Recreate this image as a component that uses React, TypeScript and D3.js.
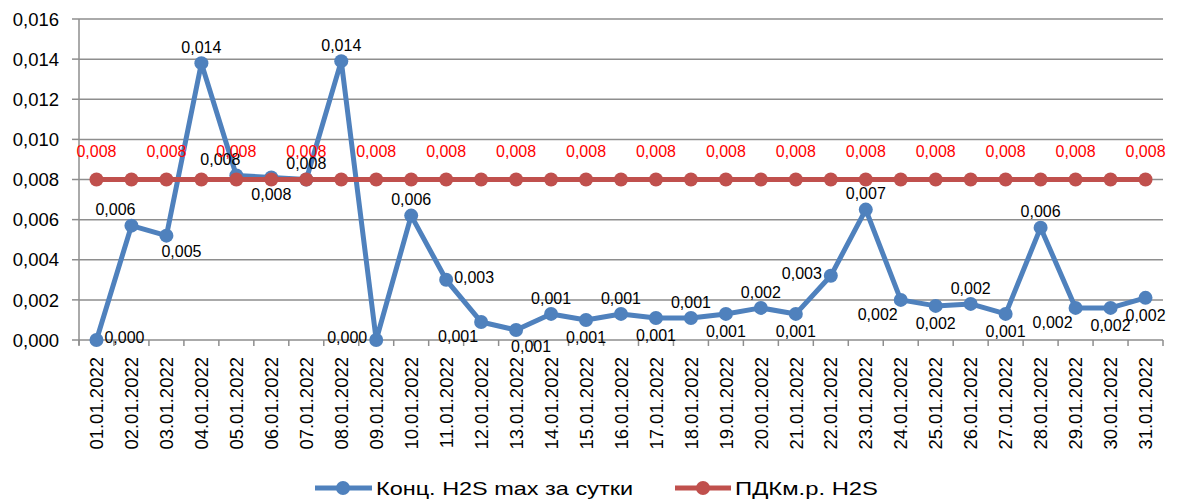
import React from "react";
import * as d3 from "d3";

const dates = [
  "01.01.2022", "02.01.2022", "03.01.2022", "04.01.2022", "05.01.2022", "06.01.2022",
  "07.01.2022", "08.01.2022", "09.01.2022", "10.01.2022", "11.01.2022", "12.01.2022",
  "13.01.2022", "14.01.2022", "15.01.2022", "16.01.2022", "17.01.2022", "18.01.2022",
  "19.01.2022", "20.01.2022", "21.01.2022", "22.01.2022", "23.01.2022", "24.01.2022",
  "25.01.2022", "26.01.2022", "27.01.2022", "28.01.2022", "29.01.2022", "30.01.2022",
  "31.01.2022",
];

const h2sMax = [
  0, 0.0057, 0.0052, 0.0138, 0.0082, 0.0081, 0.008, 0.0139, 0, 0.0062, 0.003,
  0.0009, 0.0005, 0.0013, 0.001, 0.0013, 0.0011, 0.0011, 0.0013, 0.0016, 0.0013,
  0.0032, 0.0065, 0.002, 0.0017, 0.0018, 0.0013, 0.0056, 0.0016, 0.0016, 0.0021,
];

const pdk = [
  0.008, 0.008, 0.008, 0.008, 0.008, 0.008, 0.008, 0.008, 0.008, 0.008, 0.008,
  0.008, 0.008, 0.008, 0.008, 0.008, 0.008, 0.008, 0.008, 0.008, 0.008, 0.008,
  0.008, 0.008, 0.008, 0.008, 0.008, 0.008, 0.008, 0.008, 0.008,
];

const seriesNames = ["Конц. H2S max за сутки", "ПДКм.р. H2S"];

// label placement (layout only)
const h2sLabelPos = [
  "r", "al", "br", "a", "al", "b", "a", "a", "l", "a", "r", "bl", "br", "a", "b", "a",
  "b", "a", "b", "a", "b", "l", "a", "bl", "b", "a", "b", "a", "bl", "b", "b",
];

const posOffset: Record<string, [number, number]> = {
  a: [0, -16],
  b: [0, 17],
  l: [-29, -3],
  r: [28, -3],
  al: [-16, -16],
  bl: [-23, 14],
  br: [15, 16],
};

const W = 1177;
const H = 501;
const left = 79;
const right = 1163;
const top = 19;
const bottom = 340;

const FONT = "'Liberation Sans', Arial, sans-serif";
const BLUE = "#4F81BD";
const RED = "#C0504D";
const GRID = "#8E8E8E";

const locale = d3.formatLocale({ decimal: ",", thousands: " ", grouping: [3], currency: ["", ""] });
const fmt3 = locale.format(".3f");
const fmtLabel = (v: number) => fmt3(Math.round(v * 1000 + 1e-9) / 1000);

export default function App() {
  const x = d3.scaleBand<string>().domain(dates).range([left, right]).padding(0);
  const y = d3.scaleLinear().domain([0, 0.016]).range([bottom, top]);
  const cx = (d: string) => (x(d) as number) + x.bandwidth() / 2;
  const yTicks = y.ticks(8);

  const line = d3
    .line<number>()
    .x((_, i) => cx(dates[i]))
    .y((v) => y(v));

  const boundaries = dates.map((d) => x(d) as number).concat([right]);

  return (
    <svg
      width={W}
      height={H}
      style={{ position: "absolute", left: 0, top: 0, background: "#fff" }}
      fontFamily={FONT}
    >
      <rect x={0} y={0} width={W} height={H} fill="#fff" />
      {/* gridlines */}
      {yTicks.map((t) => (
        <line key={"g" + t} x1={left} x2={right} y1={y(t)} y2={y(t)} stroke={GRID} strokeWidth={1.5} />
      ))}
      {/* y axis */}
      <line x1={left} x2={left} y1={top} y2={bottom + 5} stroke={GRID} strokeWidth={1.5} />
      {yTicks.map((t) => (
        <line key={"yt" + t} x1={left - 7} x2={left} y1={y(t)} y2={y(t)} stroke={GRID} strokeWidth={1.5} />
      ))}
      {yTicks.map((t) => (
        <text key={"yl" + t} x={59} y={y(t)} dy="0.36em" textAnchor="end" fontSize={18.5} fill="#000">
          {fmt3(t)}
        </text>
      ))}
      {/* x ticks */}
      {boundaries.map((b, i) => (
        <line key={"xt" + i} x1={b} x2={b} y1={bottom} y2={bottom + 6} stroke={GRID} strokeWidth={1.5} />
      ))}
      {dates.map((d) => (
        <text
          key={"xl" + d}
          transform={`translate(${cx(d)},${bottom + 17}) rotate(-90)`}
          textAnchor="end"
          dy="0.36em"
          fontSize={18.5}
          fill="#000"
        >
          {d}
        </text>
      ))}

      {/* blue series */}
      <path d={line(h2sMax) || ""} fill="none" stroke={BLUE} strokeWidth={5} strokeLinejoin="round" />
      {h2sMax.map((v, i) => (
        <circle key={"bp" + i} cx={cx(dates[i])} cy={y(v)} r={7} fill={BLUE} />
      ))}
      {/* red series */}
      <path d={line(pdk) || ""} fill="none" stroke={RED} strokeWidth={5} />
      {pdk.map((v, i) => (
        <circle key={"rp" + i} cx={cx(dates[i])} cy={y(v)} r={7} fill={RED} />
      ))}

      {/* blue labels */}
      {h2sMax.map((v, i) => {
        const [dx, dy] = posOffset[h2sLabelPos[i]];
        return (
          <text
            key={"bl" + i}
            x={cx(dates[i]) + dx}
            y={y(v) + dy}
            dy="0.36em"
            textAnchor="middle"
            fontSize={16}
            fill="#000"
          >
            {fmtLabel(v)}
          </text>
        );
      })}
      {/* red labels (every other shown) */}
      {pdk.map((v, i) =>
        i % 2 === 0 ? (
          <text
            key={"rl" + i}
            x={cx(dates[i])}
            y={y(v) - 28}
            dy="0.36em"
            textAnchor="middle"
            fontSize={16}
            fill="#FF0000"
          >
            {fmtLabel(v)}
          </text>
        ) : null
      )}

      {/* legend */}
      <g>
        <line x1={315} x2={372} y1={488} y2={488} stroke={BLUE} strokeWidth={5} />
        <circle cx={343} cy={488} r={7} fill={BLUE} />
        <text x={376} y={495} fontSize={19} fill="#000" textLength={257} lengthAdjust="spacingAndGlyphs">
          {seriesNames[0]}
        </text>
        <line x1={675} x2={731} y1={488} y2={488} stroke={RED} strokeWidth={5} />
        <circle cx={703} cy={488} r={7} fill={RED} />
        <text x={735} y={495} fontSize={19} fill="#000" textLength={143} lengthAdjust="spacingAndGlyphs">
          {seriesNames[1]}
        </text>
      </g>
    </svg>
  );
}
